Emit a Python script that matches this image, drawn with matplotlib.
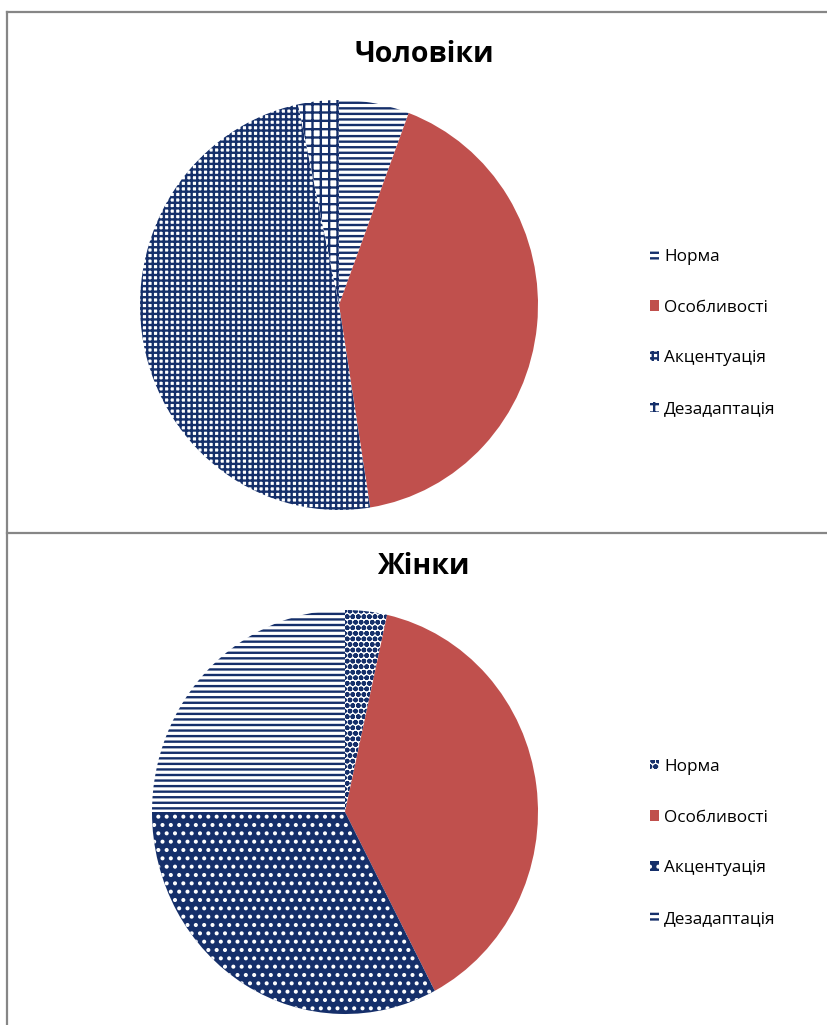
import matplotlib
matplotlib.use('Agg')
import matplotlib.pyplot as plt
from matplotlib.patches import Patch
from matplotlib.lines import Line2D

plt.rcParams['font.family'] = ['Open Sans', 'DejaVu Sans']
plt.rcParams['hatch.linewidth'] = 1.7

W, H = 827, 1025
NAVY = '#152F6A'
RED = '#C0504D'

categories = ['Норма', 'Особливості', 'Акцентуація', 'Дезадаптація']
men_values = [5.7, 41.8, 49.2, 3.3]
women_values = [3.5, 38.8, 32.7, 25.0]

# facecolor, hatch colour, hatch
men_styles = [('white', NAVY, '---'), (RED, RED, ''), ('white', NAVY, '+++'), ('white', NAVY, '++')]
women_styles = [('white', NAVY, 'ooo'), (RED, RED, ''), (NAVY, 'white', '..'), ('white', NAVY, '---')]

fig = plt.figure(figsize=(W / 100, H / 100), dpi=100)


def px_axes(cx, cy, rx, ry):
    return fig.add_axes([(cx - rx) / W, 1 - (cy + ry) / H, 2 * rx / W, 2 * ry / H])


def draw_pie(ax, values, styles):
    wedges, _ = ax.pie(values, startangle=90, counterclock=False, radius=1,
                       wedgeprops=dict(linewidth=0))
    for w, (fc, hc, hatch) in zip(wedges, styles):
        w.set_facecolor(fc)
        w.set_edgecolor(hc)
        w.set_hatch(hatch)
    ax.set_aspect('auto')
    ax.set_xlim(-1, 1)
    ax.set_ylim(-1, 1)
    ax.axis('off')


def draw_legend(styles, cy):
    handles = [Patch(facecolor=fc, edgecolor=hc, hatch=h, linewidth=0) for fc, hc, h in styles]
    fig.legend(handles, categories, loc='center left', bbox_to_anchor=(643 / W, 1 - cy / H),
               frameon=False, fontsize=12.3, handlelength=0.55, handleheight=0.55,
               handletextpad=0.3, labelspacing=2.03, borderaxespad=0)


ax1 = px_axes(339, 305, 199, 205)
draw_pie(ax1, men_values, men_styles)
fig.text(424 / W, 1 - 54 / H, 'Чоловіки', ha='center', va='center', fontsize=20.5, fontweight='bold')
draw_legend(men_styles, 333)

ax2 = px_axes(345, 812, 193, 202)
draw_pie(ax2, women_values, women_styles)
fig.text(423 / W, 1 - 566 / H, 'Жінки', ha='center', va='center', fontsize=20.5, fontweight='bold')
draw_legend(women_styles, 843)

# panel borders
for xs, ys in [((7, W), (12, 12)), ((7, 7), (12, H)), ((7, W), (533, 533))]:
    fig.add_artist(Line2D([x / W for x in xs], [1 - y / H for y in ys], color='#868686', linewidth=1.6))

fig.savefig('out.png', dpi=100)
